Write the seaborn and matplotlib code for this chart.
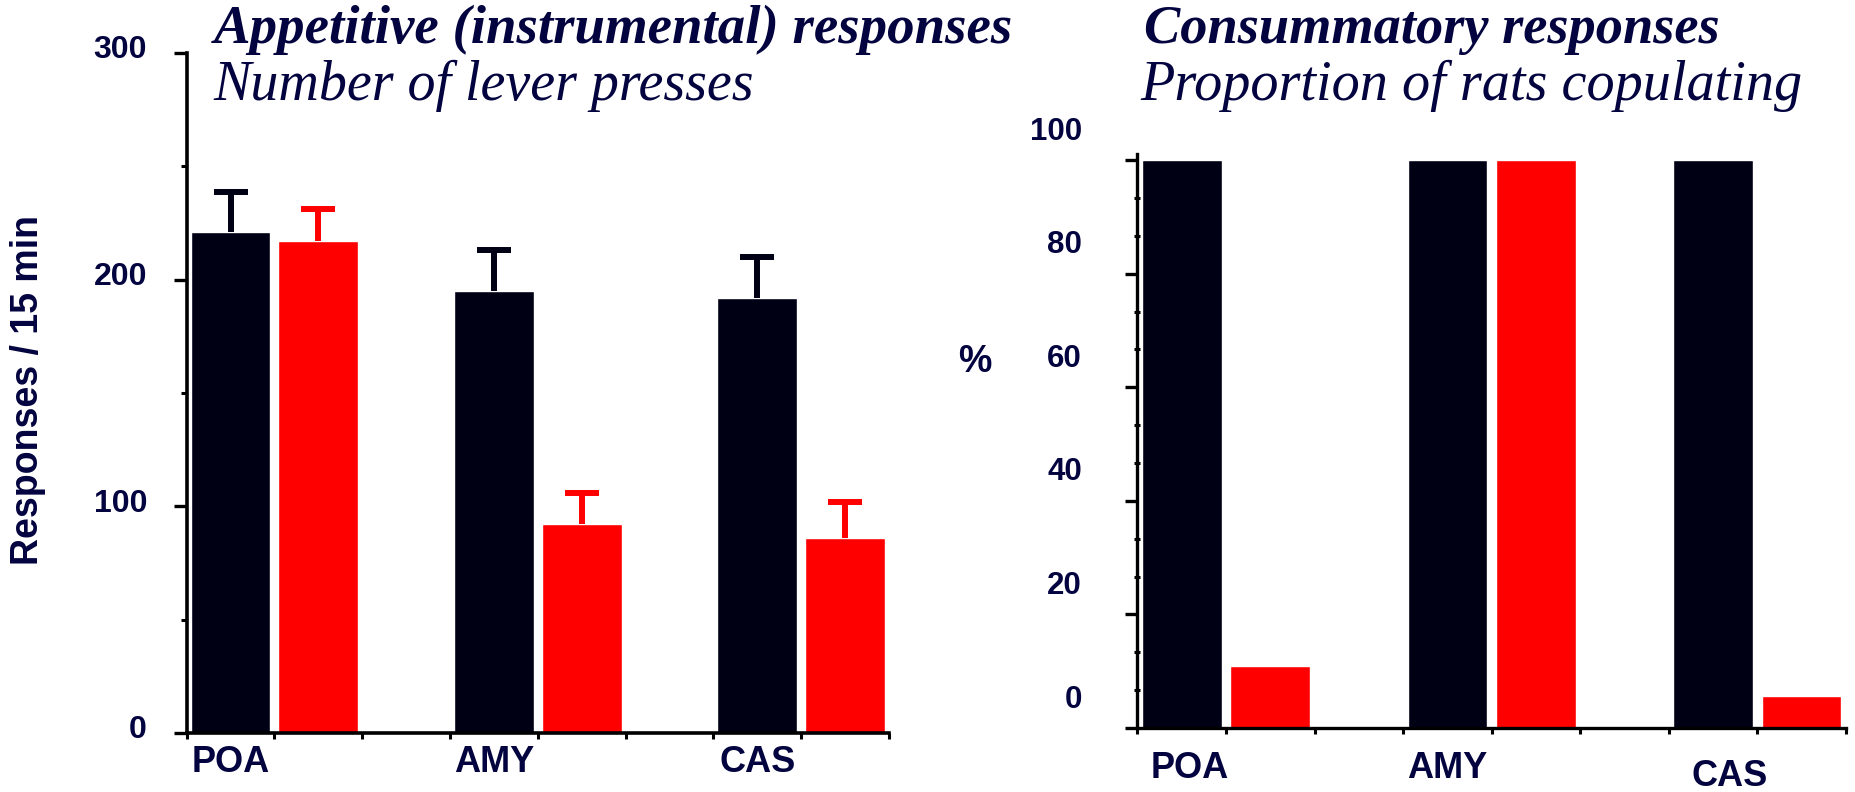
import matplotlib
matplotlib.use("Agg")
import matplotlib.pyplot as plt
from matplotlib.ticker import FixedLocator, MultipleLocator
from matplotlib.transforms import ScaledTranslation
import pandas as pd
import seaborn as sns

# ---------------------------------------------------------#
#                          DATA                           #
# ---------------------------------------------------------#
regions = ["POA", "AMY", "CAS"]
groups = ["control", "lesion"]

presses_control = [221, 195, 192]
presses_control_err = [17.5, 18, 18]
presses_lesion = [217, 92, 86]
presses_lesion_err = [14, 14, 16]

copulating_control = [100, 100, 100]
copulating_lesion = [11, 100, 5.6]

left_yticks = [0, 100, 200, 300]
right_yticks = [0, 20, 40, 60, 80, 100]

NAVY = "#03033f"
DARK = "#000014"
RED = "#ff0000"
palette = {"control": DARK, "lesion": RED}


def make_frame(control, lesion):
    """Bars sit in unit slots: black, red, gap, black, red, gap..."""
    rows = []
    for i, region in enumerate(regions):
        rows.append({"pos": 3 * i + 0.5, "value": control[i], "group": "control"})
        rows.append({"pos": 3 * i + 1.5, "value": lesion[i], "group": "lesion"})
    return pd.DataFrame(rows)


def style_axis(ax, ylim, lw=2.6):
    sns.despine(ax=ax)
    for side in ["left", "bottom"]:
        ax.spines[side].set_linewidth(lw)
        ax.spines[side].set_color("black")
    ax.set_xlim(0, 8)
    ax.set_ylim(*ylim)
    ax.set_xlabel("")
    ax.set_ylabel("")
    # category labels under black bars, tick marks on slot edges
    ax.xaxis.set_major_locator(FixedLocator([0.5, 3.5, 6.5]))
    ax.set_xticklabels(regions)
    ax.xaxis.set_minor_locator(FixedLocator(list(range(9))))
    ax.tick_params(axis="x", which="major", bottom=True, length=0, labelsize=26,
                   labelcolor=NAVY)
    ax.tick_params(axis="x", which="minor", bottom=True, direction="out",
                   length=4.5, width=2.2, color="black")


sns.set_style("white")
plt.rcParams["font.family"] = ["Liberation Sans", "DejaVu Sans"]
plt.rcParams["font.weight"] = "bold"

fig = plt.figure(figsize=(18.55, 7.92), dpi=100)
ax1 = fig.add_axes([0.1006, 0.0745, 0.3787, 0.8586])
ax2 = fig.add_axes([0.6132, 0.0808, 0.3819, 0.7247])

# ---------------- left: lever presses ----------------
df_left = make_frame(presses_control, presses_lesion)
sns.barplot(data=df_left, x="pos", y="value", hue="group", palette=palette,
            native_scale=True, dodge=False, width=0.91, errorbar=None,
            legend=False, saturation=1, ax=ax1)
for grp, vals, errs in [("control", presses_control, presses_control_err),
                        ("lesion", presses_lesion, presses_lesion_err)]:
    sub = df_left[df_left.group == grp]
    _, caps, _ = ax1.errorbar(sub.pos, vals, yerr=[[0] * len(errs), errs],
                              fmt="none", ecolor=palette[grp], elinewidth=4.3,
                              capsize=12, capthick=4.3, zorder=1)
    # only the upper cap is drawn in the original
    for cap in caps:
        if list(cap.get_ydata()) == list(vals):
            cap.remove()

style_axis(ax1, (0, 300))
ax1.yaxis.set_major_locator(FixedLocator(left_yticks))
ax1.yaxis.set_minor_locator(MultipleLocator(50))
ax1.tick_params(axis="y", which="major", left=True, direction="out", length=9.5,
                width=2.4, pad=19, labelsize=23, labelcolor=NAVY, color="black")
ax1.tick_params(axis="y", which="minor", left=True, direction="out", length=4.3,
                width=2.2, color="black")
ax1.tick_params(axis="x", which="major", pad=9)
lift = ScaledTranslation(0, 0.06, fig.dpi_scale_trans)
for lab in ax1.get_yticklabels():
    lab.set_transform(lab.get_transform() + lift)

fig.text(0.015, 0.508, "Responses / 15 min", rotation=90, ha="center",
         va="center", fontsize=27, fontweight="bold", color=NAVY)

# ---------------- right: proportion copulating ----------------
df_right = make_frame(copulating_control, copulating_lesion)
sns.barplot(data=df_right, x="pos", y="value", hue="group", palette=palette,
            native_scale=True, dodge=False, width=0.9, errorbar=None,
            legend=False, saturation=1, ax=ax2)

style_axis(ax2, (0, 101.06), lw=2.4)
ax2.yaxis.set_major_locator(FixedLocator(right_yticks))
ax2.yaxis.set_minor_locator(MultipleLocator(20 / 3))
ax2.tick_params(axis="y", which="major", left=True, direction="out", length=9,
                width=2.4, pad=31, labelsize=22.5, labelcolor=NAVY, color="black")
ax2.tick_params(axis="y", which="minor", left=True, direction="inout", length=5,
                width=2.2, color="black")
ax2.tick_params(axis="x", which="major", pad=16.5)
# the tick numbers sit above their marks in the original
lift = ScaledTranslation(0, 0.32, fig.dpi_scale_trans)
for lab in ax2.get_yticklabels():
    lab.set_transform(lab.get_transform() + lift)
xlabs = ax2.get_xticklabels()
xlabs[0].set_transform(xlabs[0].get_transform() + ScaledTranslation(0.08, 0, fig.dpi_scale_trans))
xlabs[2].set_transform(xlabs[2].get_transform() + ScaledTranslation(0.17, -0.08, fig.dpi_scale_trans))

fig.text(975 / 1855, 1 - 362 / 792, "%", ha="center", va="center",
         fontsize=27, fontweight="bold", color=NAVY)

# ---------------- titles ----------------
serif = ["Liberation Serif", "DejaVu Serif"]
fig.text(214 / 1855, 1 - 43 / 792, "Appetitive (instrumental) responses",
         family=serif, style="italic", fontweight="bold", fontsize=39.5,
         color=NAVY, va="baseline")
fig.text(213 / 1855, 1 - 100 / 792, "Number of lever presses",
         family=serif, style="italic", fontweight="normal", fontsize=40.3,
         color=NAVY, va="baseline")
fig.text(1144 / 1855, 1 - 43 / 792, "Consummatory responses",
         family=serif, style="italic", fontweight="bold", fontsize=39.2,
         color=NAVY, va="baseline")
fig.text(1140 / 1855, 1 - 100 / 792, "Proportion of rats copulating",
         family=serif, style="italic", fontweight="normal", fontsize=40.5,
         color=NAVY, va="baseline")

fig.savefig("out.png", dpi=100)
